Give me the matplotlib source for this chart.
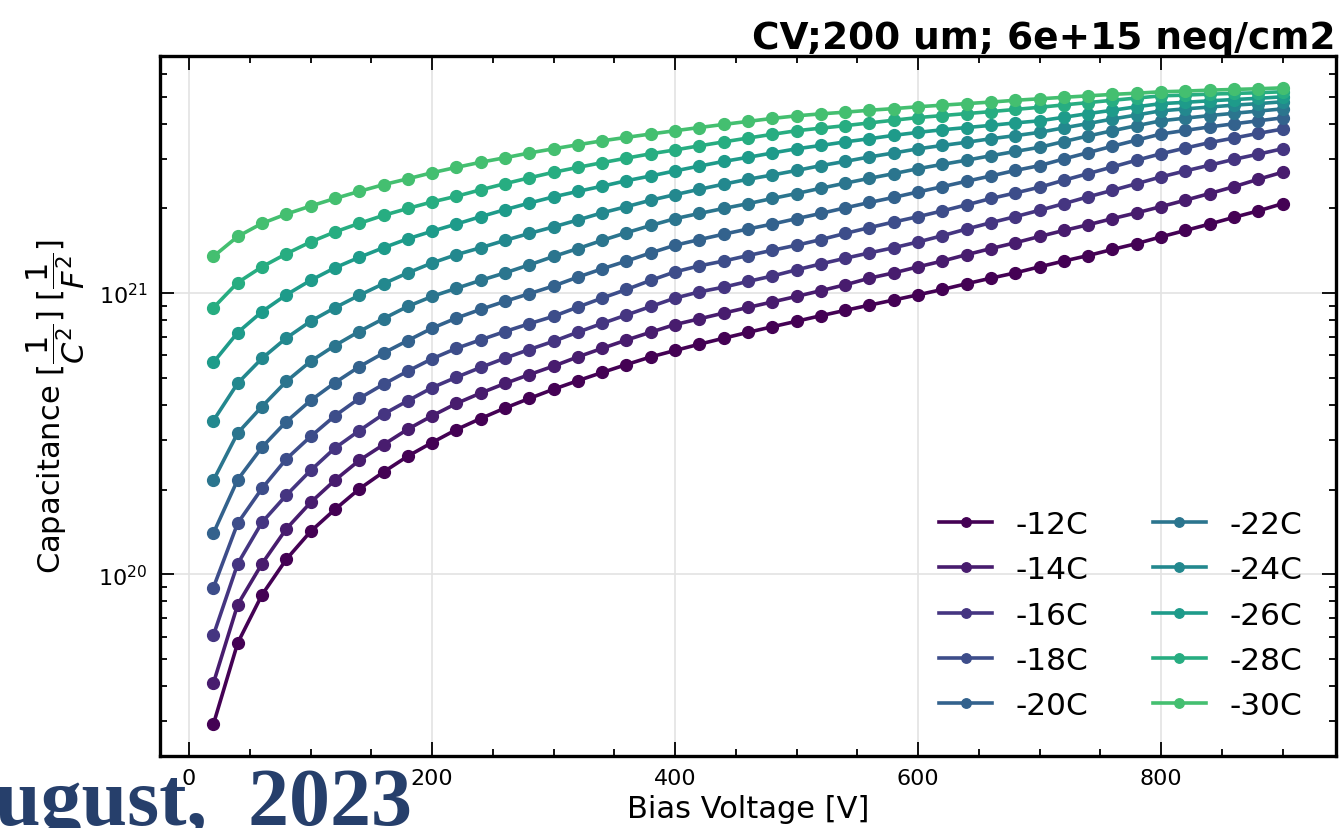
import numpy as np
import matplotlib
matplotlib.use("Agg")
from matplotlib import pyplot as plt
from matplotlib.ticker import MultipleLocator

# bias voltage points [V]
bias = list(range(20, 901, 20))

temps = ["-12C", "-14C", "-16C", "-18C", "-20C", "-22C", "-24C", "-26C", "-28C", "-30C"]

# 1/C^2, in units of 1e20 1/F^2
inv_c2_m12 = [0.293, 0.570, 0.845, 1.13, 1.42, 1.70, 2.01, 2.31, 2.63, 2.94,
              3.27, 3.58, 3.90, 4.22, 4.55, 4.88, 5.22, 5.57, 5.93, 6.25,
              6.58, 6.91, 7.25, 7.59, 7.94, 8.31, 8.68, 9.06, 9.45, 9.86,
              10.3, 10.8, 11.3, 11.8, 12.4, 13.0, 13.6, 14.3, 15.0, 15.85,
              16.7, 17.6, 18.6, 19.6, 20.8]
inv_c2_m14 = [0.41, 0.78, 1.09, 1.45, 1.80, 2.16, 2.54, 2.89, 3.28, 3.66,
              4.05, 4.41, 4.77, 5.13, 5.50, 5.93, 6.36, 6.81, 7.26, 7.73,
              8.10, 8.49, 8.89, 9.30, 9.73, 10.2, 10.7, 11.3, 11.8, 12.4,
              13.0, 13.7, 14.4, 15.1, 15.9, 16.7, 17.5, 18.4, 19.3, 20.3,
              21.4, 22.6, 23.9, 25.4, 26.9]
inv_c2_m16 = [0.607, 1.09, 1.53, 1.91, 2.34, 2.81, 3.24, 3.71, 4.14, 4.61,
              5.02, 5.44, 5.87, 6.30, 6.74, 7.26, 7.80, 8.36, 8.96, 9.60,
              10.1, 10.5, 11.0, 11.5, 12.1, 12.7, 13.3, 13.9, 14.5, 15.2,
              16.0, 16.9, 17.8, 18.7, 19.7, 20.8, 22.0, 23.2, 24.5, 25.9,
              27.2, 28.5, 29.9, 31.2, 32.6]
inv_c2_m18 = [0.897, 1.52, 2.02, 2.57, 3.09, 3.66, 4.22, 4.74, 5.28, 5.84,
              6.36, 6.82, 7.30, 7.78, 8.27, 8.92, 9.60, 10.3, 11.1, 11.9,
              12.5, 13.0, 13.6, 14.2, 14.8, 15.5, 16.3, 17.1, 17.9, 18.7,
              19.6, 20.6, 21.7, 22.7, 23.8, 25.2, 26.6, 28.1, 29.7, 31.3,
              32.8, 34.3, 35.6, 37.0, 38.3]
inv_c2_m20 = [1.40, 2.17, 2.83, 3.49, 4.15, 4.80, 5.47, 6.12, 6.78, 7.50,
              8.15, 8.75, 9.35, 9.95, 10.6, 11.4, 12.2, 13.0, 13.9, 14.8,
              15.5, 16.2, 16.9, 17.6, 18.4, 19.2, 20.1, 21.0, 21.9, 22.9,
              23.9, 25.0, 26.1, 27.3, 28.4, 30.0, 31.6, 33.3, 35.0, 36.8,
              37.9, 39.0, 40.0, 41.0, 42.0]
inv_c2_m22 = [2.16, 3.18, 3.95, 4.85, 5.72, 6.51, 7.30, 8.11, 8.97, 9.73,
              10.4, 11.1, 11.8, 12.6, 13.5, 14.4, 15.4, 16.4, 17.4, 18.4,
              19.2, 20.0, 20.8, 21.7, 22.6, 23.6, 24.6, 25.6, 26.6, 27.7,
              28.7, 29.7, 30.8, 31.9, 33.0, 34.6, 36.2, 37.8, 39.4, 41.0,
              41.9, 42.8, 43.6, 44.4, 45.2]
inv_c2_m24 = [3.52, 4.78, 5.86, 6.92, 7.94, 8.87, 9.82, 10.8, 11.8, 12.8,
              13.7, 14.5, 15.4, 16.3, 17.2, 18.2, 19.3, 20.3, 21.4, 22.4,
              23.4, 24.4, 25.4, 26.3, 27.3, 28.4, 29.4, 30.5, 31.5, 32.6,
              33.5, 34.4, 35.4, 36.3, 37.3, 38.7, 40.1, 41.6, 43.0, 44.5,
              45.2, 45.9, 46.6, 47.2, 47.9]
inv_c2_m26 = [5.67, 7.24, 8.59, 9.86, 11.1, 12.3, 13.4, 14.5, 15.6, 16.6,
              17.6, 18.7, 19.8, 20.9, 22.0, 23.0, 24.0, 25.1, 26.1, 27.2,
              28.3, 29.4, 30.4, 31.5, 32.6, 33.5, 34.5, 35.4, 36.4, 37.3,
              38.1, 38.8, 39.5, 40.3, 41.0, 42.2, 43.5, 44.7, 46.0, 47.2,
              47.7, 48.3, 48.8, 49.3, 49.9]
inv_c2_m28 = [8.87, 10.9, 12.4, 13.8, 15.2, 16.5, 17.7, 18.9, 20.0, 21.1,
              22.1, 23.3, 24.5, 25.7, 26.9, 28.0, 29.1, 30.2, 31.3, 32.3,
              33.4, 34.5, 35.6, 36.7, 37.8, 38.6, 39.4, 40.3, 41.2, 42.1,
              42.8, 43.5, 44.2, 45.0, 45.8, 46.7, 47.6, 48.5, 49.4, 50.3,
              50.6, 51.0, 51.3, 51.6, 52.0]
inv_c2_m30 = [13.5, 15.9, 17.7, 19.1, 20.4, 21.7, 23.0, 24.3, 25.5, 26.8,
              28.0, 29.2, 30.3, 31.5, 32.6, 33.7, 34.8, 35.8, 36.8, 37.8,
              38.8, 39.8, 40.8, 41.8, 42.7, 43.4, 44.0, 44.7, 45.3, 46.0,
              46.6, 47.2, 47.8, 48.5, 49.1, 49.7, 50.3, 50.9, 51.4, 52.0,
              52.3, 52.7, 53.0, 53.3, 53.7]

series = [inv_c2_m12, inv_c2_m14, inv_c2_m16, inv_c2_m18, inv_c2_m20,
          inv_c2_m22, inv_c2_m24, inv_c2_m26, inv_c2_m28, inv_c2_m30]

colors = plt.cm.viridis(np.linspace(0, 0.7, len(temps)))

fig = plt.figure(figsize=(13.42, 8.29), dpi=100)
ax = fig.add_axes([0.1192, 0.0869, 0.8763, 0.8443])

for i in range(len(temps)):
    ax.plot(bias, np.array(series[i]) * 1e20, '-o', color=colors[i],
            lw=2.6, ms=8.5, label=temps[i])

ax.set_yscale('log')
ax.xaxis.set_major_locator(MultipleLocator(200))
ax.xaxis.set_minor_locator(MultipleLocator(50))
ax.grid(True, which='major', color='#e3e3e3', lw=1.2)
ax.tick_params(which='both', direction='in', top=True, right=True, width=1.3)
ax.tick_params(which='major', length=10, labelsize=16, pad=9)
ax.tick_params(which='minor', length=5)
for s in ax.spines.values():
    s.set_linewidth(2.4)

ax.set_xlabel('Bias Voltage [V]', fontsize=22, labelpad=4)
ax.set_ylabel(r'Capacitance [$\dfrac{1}{C^2}$] [$\dfrac{1}{F^2}$]', fontsize=22,
              labelpad=8)
ax.set_title('CV;200 um; 6e+15 neq/cm2', loc='right', fontsize=27,
             fontweight='bold', pad=4)

ax.legend(ncol=2, loc='lower right', frameon=False, fontsize=22.5,
          handlelength=1.7, handletextpad=0.75, columnspacing=2.05,
          labelspacing=0.52, markerscale=0.8, borderaxespad=0.75,
          bbox_to_anchor=(1.002, 0.0))

# leftover slide footer that overlaps the plot
fig.text(-0.004, 0.005, 'ugust,  2023', family='Liberation Serif',
         fontweight='bold', fontsize=59, color='#263f6b')

fig.savefig('out.png', dpi=100)
